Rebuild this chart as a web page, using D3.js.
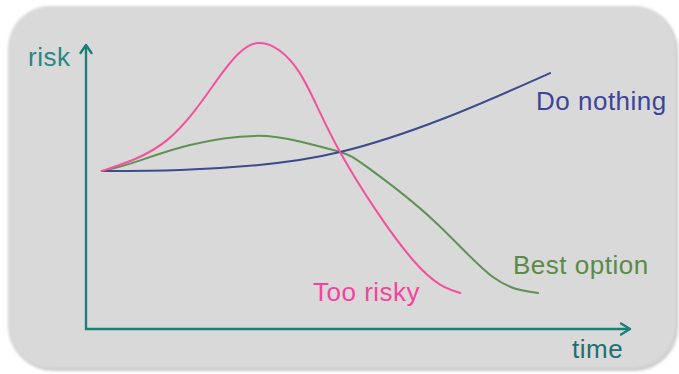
<!DOCTYPE html>
<html>
<head>
<meta charset="utf-8">
<script src="https://cdn.jsdelivr.net/npm/d3@7/dist/d3.min.js"></script>
<style>
  html, body { margin: 0; padding: 0; background: #ffffff; }
  svg { display: block; }
  text { font-family: "Liberation Sans", Arial, sans-serif; }
</style>
</head>
<body>
<svg id="chart" width="679" height="374"></svg>
<script>
// Conceptual risk-over-time paths (time and risk on a 0–100 scale)
const doNothingTime = [2.9, 17.3, 31.4, 46.7, 66.0, 85.3];
const doNothingRisk = [55.6, 56.0, 57.7, 62.3, 74.3, 90.1];

const bestOptionTime = [2.9, 8.6, 19.1, 31.1, 39.3, 46.7, 51.7, 63.8, 74.8, 83.1];
const bestOptionRisk = [55.6, 58.5, 64.8, 68.0, 66.0, 62.3, 57.0, 38.4, 18.3, 12.7];

const tooRiskyTime = [2.9, 14.9, 24.1, 31.6, 39.3, 46.7, 60.1, 68.8];
const tooRiskyRisk = [55.6, 66.5, 87.7, 100.7, 90.1, 62.3, 24.3, 12.7];

const seriesNames = ["Do nothing", "Best option", "Too risky"];
const axisLabels = { x: "time", y: "risk" };

const svg = d3.select("#chart");

const x = d3.scaleLinear().domain([0, 100]).range([86, 630]);
const y = d3.scaleLinear().domain([0, 100]).range([329, 45]);

// Soft rounded panel behind the chart
const defs = svg.append("defs");
defs.append("filter").attr("id", "soft")
  .attr("x", "-5%").attr("y", "-5%").attr("width", "110%").attr("height", "110%")
  .append("feGaussianBlur").attr("stdDeviation", 1.6);

svg.append("rect")
  .attr("x", 10).attr("y", 8).attr("width", 668).attr("height", 363)
  .attr("rx", 44).attr("ry", 44)
  .attr("fill", "#c9c9c9").attr("filter", "url(#soft)");
svg.append("rect")
  .attr("x", 8).attr("y", 6).attr("width", 668).attr("height", 362)
  .attr("rx", 42).attr("ry", 42)
  .attr("fill", "#d9d9d9").attr("filter", "url(#soft)");

// Axes with open arrowheads
const axisColor = "#1d7f78";
const g = svg.append("g");
const x0 = x(0), y0 = y(0), xEnd = x(100), yEnd = y(100);

g.append("path")
  .attr("d", `M${x0},${yEnd} L${x0},${y0} L${xEnd},${y0}`)
  .attr("fill", "none").attr("stroke", axisColor).attr("stroke-width", 2.4);
g.append("path")
  .attr("d", `M${x0 - 5.5},${yEnd + 8} L${x0},${yEnd} L${x0 + 5.5},${yEnd + 8}`)
  .attr("fill", "none").attr("stroke", axisColor).attr("stroke-width", 2.4)
  .attr("stroke-linejoin", "round").attr("stroke-linecap", "round");
g.append("path")
  .attr("d", `M${xEnd - 9},${y0 - 5.5} L${xEnd},${y0} L${xEnd - 9},${y0 + 5.5}`)
  .attr("fill", "none").attr("stroke", axisColor).attr("stroke-width", 2.4)
  .attr("stroke-linejoin", "round").attr("stroke-linecap", "round");

// Curves: natural cubic splines through the sampled points
const line = d3.line()
  .x(d => x(d[0])).y(d => y(d[1]))
  .curve(d3.curveNatural);

const zip = (a, b) => a.map((v, i) => [v, b[i]]);

const series = [
  { name: seriesNames[1], pts: zip(bestOptionTime, bestOptionRisk), color: "#5f9155" },
  { name: seriesNames[0], pts: zip(doNothingTime, doNothingRisk), color: "#3b4b8c" },
  { name: seriesNames[2], pts: zip(tooRiskyTime, tooRiskyRisk), color: "#f4509c" }
];

g.selectAll("path.curve").data(series).join("path")
  .attr("class", "curve")
  .attr("d", d => line(d.pts))
  .attr("fill", "none")
  .attr("stroke", d => d.color)
  .attr("stroke-width", 2)
  .attr("stroke-linecap", "round");

// Labels
const labels = [
  { text: axisLabels.y, x: 28, y: 66, color: "#2a8585" },
  { text: axisLabels.x, x: 572, y: 358, color: "#1f6f74" },
  { text: seriesNames[0], x: 536, y: 110, color: "#3d449a" },
  { text: seriesNames[1], x: 513, y: 274, color: "#5a8a48" },
  { text: seriesNames[2], x: 313, y: 301, color: "#f2449d" }
];

svg.selectAll("text.lbl").data(labels).join("text")
  .attr("class", "lbl")
  .attr("x", d => d.x).attr("y", d => d.y)
  .attr("fill", d => d.color)
  .attr("font-size", 26)
  .attr("letter-spacing", 0.5)
  .text(d => d.text);
</script>
</body>
</html>
